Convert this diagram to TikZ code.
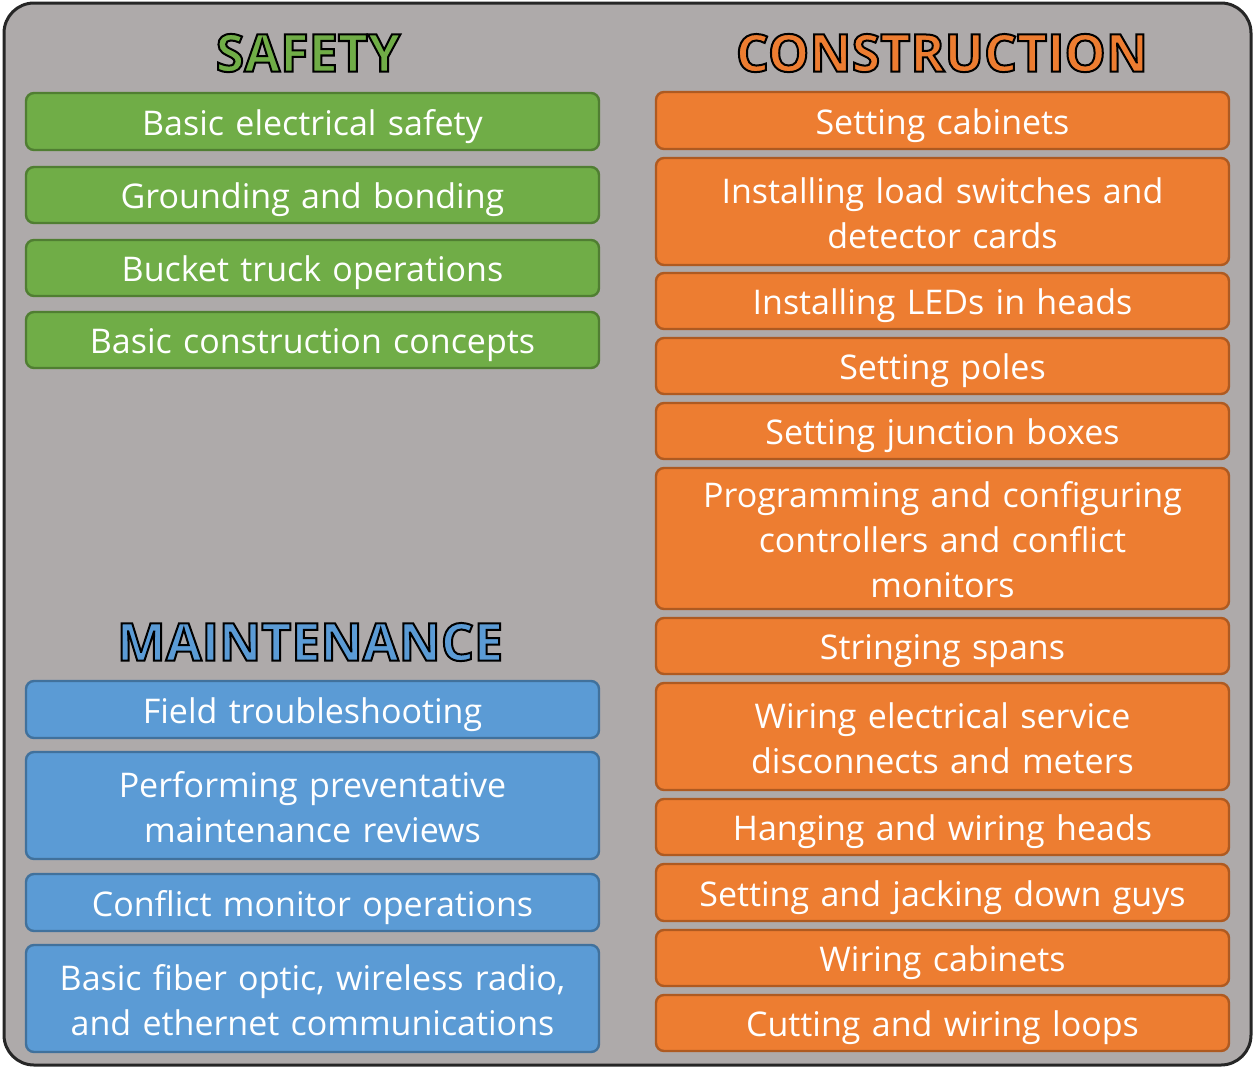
\documentclass[tikz,border=0pt]{standalone}
\usepackage{fontspec}
\setmainfont{Open Sans}
\usetikzlibrary{positioning}

\definecolor{frameg}{HTML}{AEAAAA}
\definecolor{safeg}{HTML}{70AD47}
\definecolor{safed}{HTML}{507E32}
\definecolor{buildo}{HTML}{ED7D31}
\definecolor{buildd}{HTML}{AE5A21}
\definecolor{mainb}{HTML}{5B9BD5}
\definecolor{maind}{HTML}{41719C}

% outlined heading letters: fill in the text colour, black stroke
\newcommand\outl[1]{\special{pdf:literal direct 2 Tr 1 w 0 0 0 RG}#1\special{pdf:literal direct 0 Tr}}

\begin{document}
\begin{tikzpicture}[x=0.5pt,y=-0.5pt,
		item/.style={draw,rounded corners=4pt,line width=1.2pt,minimum width=286.5pt,
			text width=280pt,align=center,text=white,font=\fontsize{17}{22.5}\selectfont,inner sep=0pt,
			execute at begin node={\rule[-4pt]{0pt}{22pt}},
			execute at end node={\rule[-4pt]{0pt}{4pt}}},
		safe/.style={item,fill=safeg,draw=safed},
		build/.style={item,fill=buildo,draw=buildd},
		maint/.style={item,fill=mainb,draw=maind},
		head/.style={font=\fontsize{26}{28}\bfseries\selectfont,inner sep=0pt}]
	\useasboundingbox (0,0) rectangle (1254,1067);
	\draw[fill=frameg,draw=black!85,line width=1.5pt,rounded corners=15pt] (4,3) rectangle (1251,1065);

	% headings
	\node[head,text=safeg] (safety) at (308,53) {\outl{SAFETY}};
	\node[head,text=buildo] (constr) at (942,53) {\outl{CONSTRUCTION}};
	\node[head,text=mainb] (maint) at (310,642) {\outl{MAINTENANCE}};

	% safety
	\node[safe,minimum height=28.5pt] (s1) at (312.5,121.5) {Basic electrical safety};
	\node[safe,minimum height=28pt] (s2) at (312.5,195) {Grounding and bonding};
	\node[safe,minimum height=28pt] (s3) at (312.5,268) {Bucket truck operations};
	\node[safe,minimum height=28pt] (s4) at (312.5,340) {Basic construction concepts};

	% maintenance
	\node[maint,minimum height=28.5pt] (m1) at (312.5,709.5) {Field troubleshooting};
	\node[maint,minimum height=53.5pt] (m2) at (312.5,805.5) {Performing preventative\\maintenance reviews};
	\node[maint,minimum height=28.5pt] (m3) at (312.5,902.5) {Conflict monitor operations};
	\node[maint,minimum height=53.5pt] (m4) at (312.5,998.5) {Basic fiber optic, wireless radio,\\and ethernet communications};

	% construction
	\node[build,minimum height=28.5pt] (c1) at (942.5,120.5) {Setting cabinets};
	\node[build,minimum height=53.5pt] (c2) at (942.5,211.5) {Installing load switches and\\detector cards};
	\node[build,minimum height=28pt] (c3) at (942.5,301) {Installing LEDs in heads};
	\node[build,minimum height=28pt] (c4) at (942.5,366) {Setting poles};
	\node[build,minimum height=28pt] (c5) at (942.5,431) {Setting junction boxes};
	\node[build,minimum height=70.5pt] (c6) at (942.5,538.5) {Programming and configuring\\controllers and conflict\\monitors};
	\node[build,minimum height=28pt] (c7) at (942.5,646) {Stringing spans};
	\node[build,minimum height=53.5pt] (c8) at (942.5,736.5) {Wiring electrical service\\disconnects and meters};
	\node[build,minimum height=28pt] (c9) at (942.5,827) {Hanging and wiring heads};
	\node[build,minimum height=28.5pt] (c10) at (942.5,892.5) {Setting and jacking down guys};
	\node[build,minimum height=28pt] (c11) at (942.5,958) {Wiring cabinets};
	\node[build,minimum height=28pt] (c12) at (942.5,1023) {Cutting and wiring loops};
\end{tikzpicture}
\end{document}
